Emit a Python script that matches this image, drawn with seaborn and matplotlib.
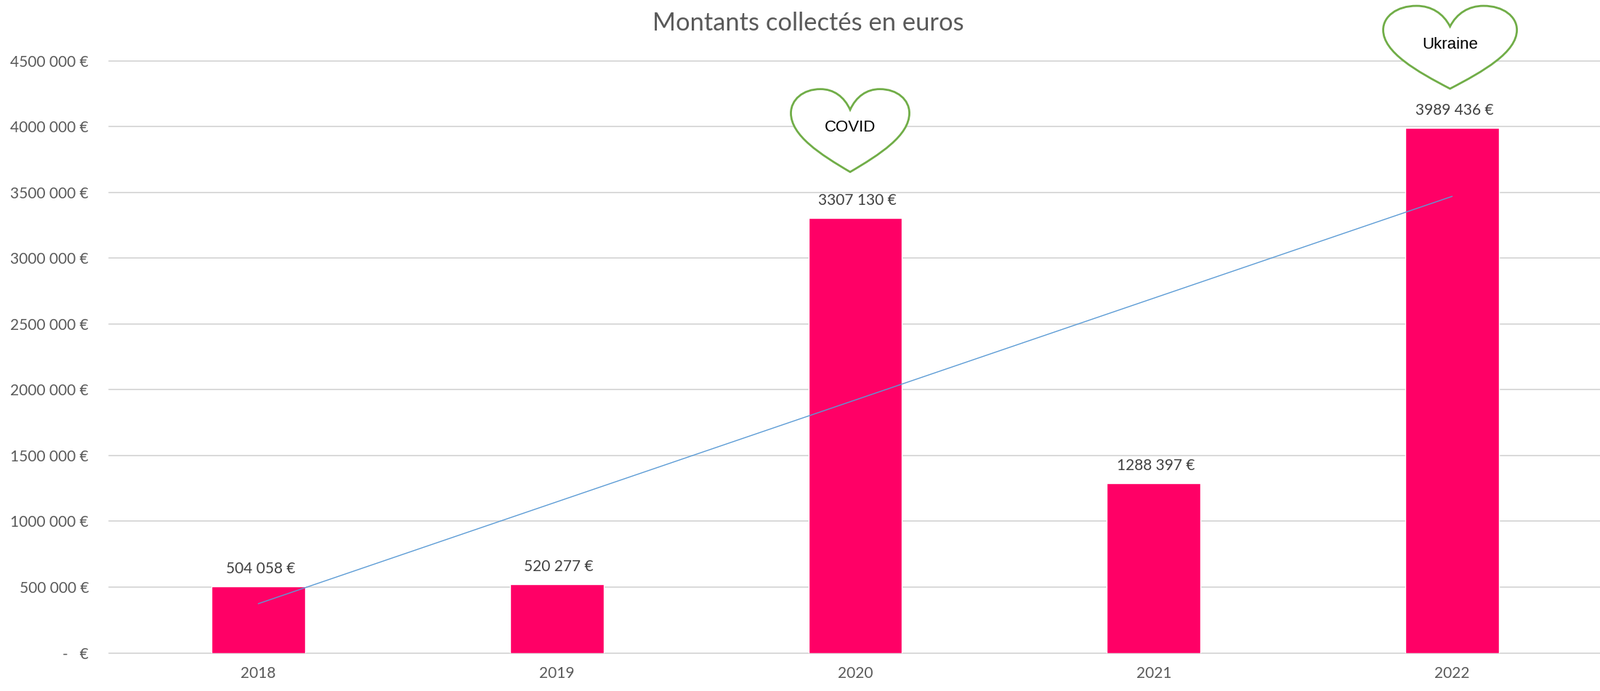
import numpy as np
import pandas as pd
import matplotlib
matplotlib.use("Agg")
import matplotlib.pyplot as plt
import seaborn as sns
from matplotlib.path import Path
from matplotlib.patches import PathPatch
from matplotlib.transforms import Affine2D

years = ["2018", "2019", "2020", "2021", "2022"]
amounts = [504058, 520277, 3307130, 1288397, 3989436]
amount_labels = ["504 058 €", "520 277 €", "3307 130 €", "1288 397 €", "3989 436 €"]
y_ticks = [0, 500000, 1000000, 1500000, 2000000, 2500000, 3000000, 3500000, 4000000, 4500000]
y_tick_labels = ["-   €", "500 000 €", "1000 000 €", "1500 000 €", "2000 000 €",
                 "2500 000 €", "3000 000 €", "3500 000 €", "4000 000 €", "4500 000 €"]
heart_years = ["2020", "2022"]
heart_labels = ["COVID", "Ukraine"]
title = "Montants collectés en euros"

W, H = 2202, 951
sns.set_theme(style="white")
plt.rcParams["font.family"] = ["Lato", "DejaVu Sans"]

fig = plt.figure(figsize=(W / 100, H / 100), dpi=100)
ax = fig.add_axes([150 / W, (H - 898.6) / H, 2054 / W, (898.6 - 83.6) / H])

df = pd.DataFrame({"year": years, "amount": amounts})
sns.barplot(data=df, x="year", y="amount", color="#FF0066", width=0.314,
            saturation=1, ax=ax, zorder=3)

# Linear trend over the categories
trend = pd.DataFrame({"pos": np.arange(len(years)), "amount": amounts})
sns.regplot(data=trend, x="pos", y="amount", scatter=False, ci=None, truncate=True,
            color="#5B9BD5", line_kws={"lw": 1.0, "zorder": 4}, ax=ax)

ax.set_xlim(-0.5, 4.5)
ax.set_ylim(0, 4500000)
ax.set_yticks(y_ticks)
ax.set_yticklabels(y_tick_labels)
ax.set_xticks(range(len(years)))
ax.set_xticklabels(years)
ax.set_xlabel("")
ax.set_ylabel("")
ax.grid(axis="y", color="#D9D9D9", lw=1.4, zorder=1)
ax.set_axisbelow(True)
for g in ax.get_ygridlines():
    g.set_clip_on(False)
for s in ax.spines.values():
    s.set_visible(False)
ax.tick_params(axis="y", length=0, pad=20, labelsize=15, labelcolor="#595959")
ax.tick_params(axis="x", length=0, pad=13, labelsize=15, labelcolor="#595959")

# Data labels
for i, (v, lab) in enumerate(zip(amounts, amount_labels)):
    ax.annotate(lab, (i, v), xytext=(2.2, 17.2), textcoords="offset points",
                ha="center", va="center", fontsize=15, color="#404040", zorder=5)

fig.text(1112 / W, 1 - 32 / H, title, ha="center", va="center",
         fontsize=24.8, color="#595959")

# Heart callouts above the bars (shape in unit coordinates, y downwards)
M, C, Z = Path.MOVETO, Path.CURVE4, Path.CLOSEPOLY
heart_verts = [(.5, .25),
               (.55, .09), (.64, 0), (.75, 0),
               (.90, 0), (1, .13), (1, .29),
               (1, .56), (.75, .79), (.5, 1),
               (.25, .79), (0, .56), (0, .29),
               (0, .13), (.10, 0), (.25, 0),
               (.36, 0), (.45, .09), (.5, .25),
               (.5, .25)]
heart_codes = [M] + [C] * 18 + [Z]
heart_path = Path(heart_verts, heart_codes)

heart_style = {"COVID": dict(dx=-7, gap=63, w=163, h=114, fs=16, ty=0.46),
               "Ukraine": dict(dx=-3, gap=54, w=184, h=114, fs=16, ty=0.47)}
fig.canvas.draw()
for yr, lab in zip(heart_years, heart_labels):
    st = heart_style[lab]
    i = years.index(yr)
    px, py = ax.transData.transform((i, amounts[i]))
    cx = px + st["dx"]
    bottom = py + st["gap"]
    top = bottom + st["h"]
    tr = Affine2D().translate(-0.5, 0).scale(st["w"], -st["h"]).translate(cx, top)
    patch = PathPatch(heart_path, transform=tr, facecolor="white", edgecolor="#70AD47",
                      lw=2.0, clip_on=False, zorder=6)
    ax.add_patch(patch)
    fig.text(cx / W, (top - st["ty"] * st["h"]) / H, lab, ha="center", va="center",
             family="Liberation Sans", fontsize=st["fs"], color="black", zorder=7)

fig.savefig("out.png", dpi=100, facecolor="white")
